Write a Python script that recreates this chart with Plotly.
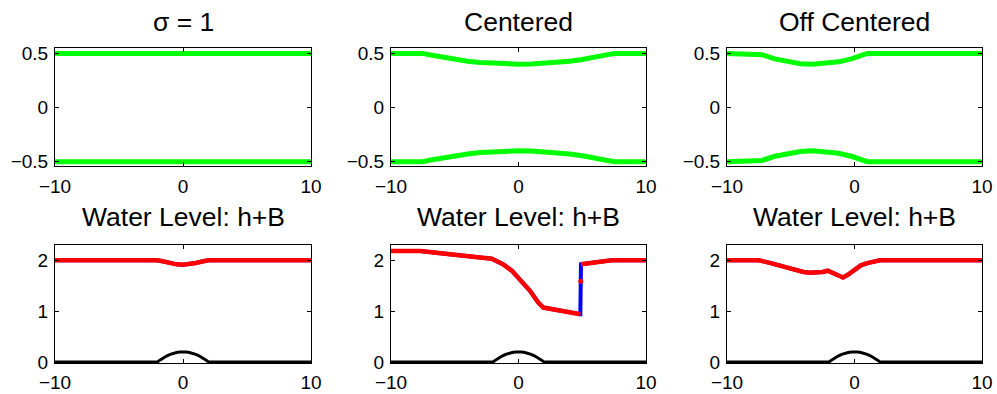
import plotly.graph_objects as go

# ---------------- data ----------------
titles = ["σ = 1", "Centered", "Off Centered",
          "Water Level: h+B", "Water Level: h+B", "Water Level: h+B"]

# top row: channel walls (upper wall; lower wall is its mirror)
x_s1 = [-10, 10]
w_s1 = [0.5, 0.5]

x_cen = [-10, -7.5, -7, -6, -5, -4, -3, -2, -1, 0, 1, 2, 3, 4, 5, 6, 7, 7.5, 10]
w_cen = [0.5, 0.5, 0.487, 0.464, 0.4444, 0.4284, 0.416, 0.4071, 0.4018, 0.4,
         0.4018, 0.4071, 0.416, 0.4284, 0.4444, 0.464, 0.487, 0.5, 0.5]

x_off = [-10, -7.5, -7.25, -6.25, -5.25, -4.25, -3.25, -2.25, -1.25, -0.25, 0.75, 1.0, 10]
w_off = [0.5, 0.5, 0.4886, 0.4498, 0.4221, 0.4055, 0.4, 0.4055, 0.4221, 0.4498, 0.4886, 0.5, 0.5]

# bottom row: bathymetry B
x_bed = [-10, -2, -1.75, -1.5, -1.25, -1, -0.75, -0.5, -0.25, 0,
         0.25, 0.5, 0.75, 1, 1.25, 1.5, 1.75, 2, 10]
b_bed = [0, 0, 0.0469, 0.0875, 0.1219, 0.15, 0.1719, 0.1875, 0.1969, 0.2,
         0.1969, 0.1875, 0.1719, 0.15, 0.1219, 0.0875, 0.0469, 0, 0]

# water level h+B
x_w1 = [-10, -2, -1.5, -1, -0.5, 0, 0.5, 1, 1.5, 2, 10]
h_w1 = [2, 2, 1.975, 1.945, 1.92, 1.91, 1.92, 1.945, 1.975, 2, 2]

x_w2 = [-10, -7.7, -2.1, -1.2, -0.5, 0.1, 0.9, 1.55, 1.95, 4.85, 4.9, 7.3, 10]
h_w2 = [2.18, 2.18, 2.03, 1.92, 1.79, 1.62, 1.40, 1.17, 1.07, 0.94, 1.92, 2.0, 2.0]
jump_idx = 9          # red solution has a gap after this index
x_w2_mid = [4.88]
h_w2_mid = [1.59]

x_w3 = [-10, -7.5, -6.5, -5.5, -4.5, -4, -3.5, -3, -2.5, -2.1, -1.5, -0.9, -0.5,
        0, 0.5, 1, 1.5, 2, 10]
h_w3 = [2.0, 2.0, 1.94, 1.87, 1.80, 1.77, 1.755, 1.755, 1.77, 1.795, 1.72, 1.66, 1.72,
        1.81, 1.90, 1.945, 1.98, 2.0, 2.0]

x_ticks = [-10, 0, 10]
y_ticks_top = [-0.5, 0, 0.5]
y_ticks_bot = [0, 1, 2]

# ---------------- figure ----------------
W, H = 997, 394
GREEN, RED, BLUE, BLACK = "#00ff00", "#ff0000", "#0000ff", "#000000"

fig = go.Figure()

xdom = [(55, 311), (391, 646), (727, 982)]
ydom_top = (48, 165.7)
ydom_bot = (245, 363.3)

def pdx(a, b):
    return [a / W, b / W]

def pdy(t, b):
    return [1 - b / H, 1 - t / H]

font = dict(family="Liberation Sans, Arial, Helvetica, sans-serif", color="black")

axis_common = dict(showline=True, linecolor="black", linewidth=1, mirror="ticks",
                   ticks="inside", ticklen=4, tickcolor="black", showgrid=False,
                   zeroline=False, automargin=False, tickfont=dict(size=19, **font))

# top row
tops = [(x_s1, w_s1), (x_cen, w_cen), (x_off, w_off)]
for i, (xs, ws) in enumerate(tops):
    n = i + 1
    xa, ya = ("x" if n == 1 else f"x{n}"), ("y" if n == 1 else f"y{n}")
    fig.add_trace(go.Scatter(x=xs, y=ws, mode="lines", line=dict(color=GREEN, width=5),
                             xaxis=xa, yaxis=ya, showlegend=False))
    fig.add_trace(go.Scatter(x=xs, y=[-v for v in ws], mode="lines",
                             line=dict(color=GREEN, width=5),
                             xaxis=xa, yaxis=ya, showlegend=False))
    fig.layout[f"xaxis{'' if n == 1 else n}"] = dict(
        domain=pdx(*xdom[i]), range=[-10, 10], tickvals=x_ticks,
        ticktext=["\u221210", "0", "10"], anchor=ya, ticklabelstandoff=3, **axis_common)
    fig.layout[f"yaxis{'' if n == 1 else n}"] = dict(
        domain=pdy(*ydom_top), range=[-0.537, 0.55], tickvals=y_ticks_top,
        ticktext=["\u22120.5", "0", "0.5"], anchor=xa, ticklabelstandoff=2, **axis_common)

# bottom row
waters = [(x_w1, h_w1), (x_w2, h_w2), (x_w3, h_w3)]
for i, (xs, hs) in enumerate(waters):
    n = i + 4
    xa, ya = f"x{n}", f"y{n}"
    fig.add_trace(go.Scatter(x=x_bed, y=b_bed, mode="lines", line=dict(color=BLACK, width=3),
                             xaxis=xa, yaxis=ya, showlegend=False))
    fig.add_trace(go.Scatter(x=xs, y=hs, mode="lines", line=dict(color=BLUE, width=4),
                             xaxis=xa, yaxis=ya, showlegend=False))
    if n == 5:
        rx = xs[:jump_idx + 1] + [None] + xs[jump_idx + 1:]
        ry = hs[:jump_idx + 1] + [None] + hs[jump_idx + 1:]
    else:
        rx, ry = xs, hs
    fig.add_trace(go.Scatter(x=rx, y=ry, mode="lines", line=dict(color=RED, width=4.5),
                             connectgaps=False, xaxis=xa, yaxis=ya, showlegend=False))
    if n == 5:
        fig.add_trace(go.Scatter(x=x_w2_mid, y=h_w2_mid, mode="markers",
                                 marker=dict(color=RED, size=5),
                                 xaxis=xa, yaxis=ya, showlegend=False))
    fig.layout[f"xaxis{n}"] = dict(
        domain=pdx(*xdom[i]), range=[-10, 10], tickvals=x_ticks,
        ticktext=["\u221210", "0", "10"], anchor=ya, ticklabelstandoff=2, **axis_common)
    fig.layout[f"yaxis{n}"] = dict(
        domain=pdy(*ydom_bot), range=[-0.025, 2.3], tickvals=y_ticks_bot,
        ticktext=["0", "1", "2"], anchor=xa, ticklabelstandoff=2, **axis_common)

# titles
anns = []
for i in range(6):
    cx = (xdom[i % 3][0] + xdom[i % 3][1]) / 2 / W
    cy = 1 - (22 if i < 3 else 217) / H
    anns.append(dict(text=titles[i], x=cx, y=cy, xref="paper", yref="paper",
                     xanchor="center", yanchor="middle", showarrow=False,
                     font=dict(size=26.5, **font)))
fig.update_layout(annotations=anns, width=W, height=H,
                  margin=dict(l=0, r=0, t=0, b=0),
                  paper_bgcolor="white", plot_bgcolor="white")

fig.write_html("out.html", config={"displayModeBar": False},
               post_script="document.body.style.margin='0';document.body.style.overflow='hidden';")
